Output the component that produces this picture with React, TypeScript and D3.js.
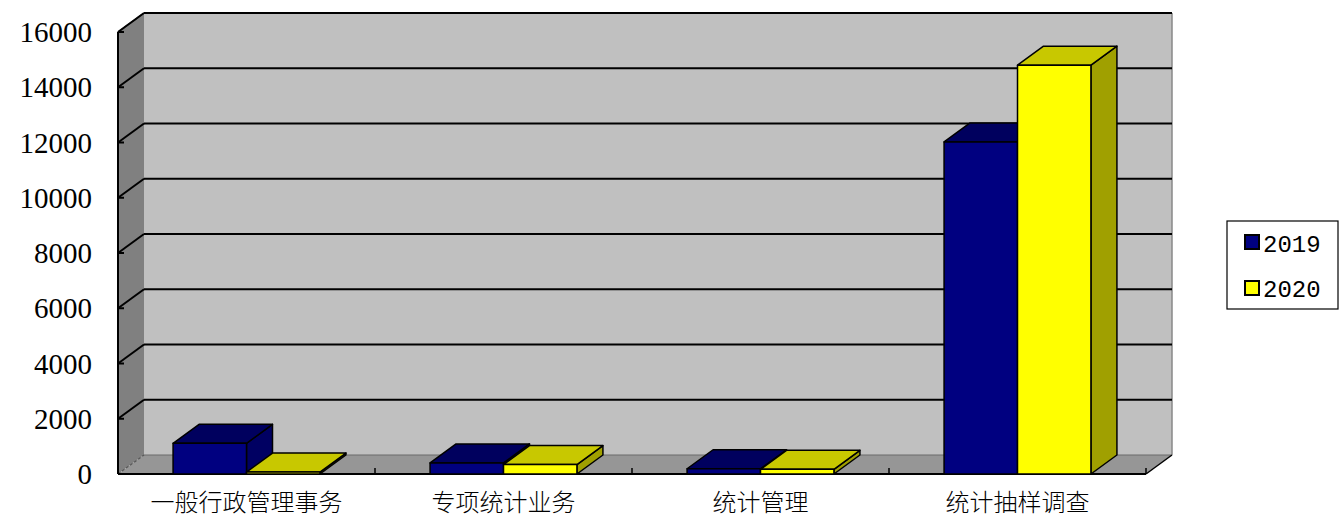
import React from "react";
import * as d3 from "d3";

const categories = ["一般行政管理事务", "专项统计业务", "统计管理", "统计抽样调查"];
const seriesNames = ["2019", "2020"];
const values2019 = [1110, 400, 190, 12020];
const values2020 = [70, 340, 170, 14800];
const yTicks = [0, 2000, 4000, 6000, 8000, 10000, 12000, 14000, 16000];

const W = 1340;
const H = 518;
const DX = 26;
const DY = -19;
const X0 = 118;
const X1 = 1146;
const Y0 = 474;
const Y1 = 32;

const frontColors = ["#000080", "#ffff00"];
const topColors = ["#00005e", "#c8c800"];
const sideColors = ["#000062", "#a0a000"];

export default function App() {
  const y = d3.scaleLinear().domain([0, 16000]).range([Y0, Y1]);
  const x = d3.scaleBand<string>().domain(categories).range([X0, X1]).padding(0);
  const xs = d3
    .scaleBand<string>()
    .domain(seriesNames)
    .range([0, x.bandwidth()])
    .paddingInner(0)
    .paddingOuter(0.75);
  const seriesVals = [values2019, values2020];
  const bw = xs.bandwidth();

  const bars: React.ReactNode[] = [];
  categories.forEach((c, ci) => {
    seriesNames.forEach((s, si) => {
      const v = seriesVals[si][ci];
      const bx = (x(c) as number) + (xs(s) as number);
      const yv = y(v);
      const yb = y(0);
      const top = `M${bx},${yv}L${bx + DX},${yv + DY}L${bx + bw + DX},${yv + DY}L${bx + bw},${yv}Z`;
      const side = `M${bx + bw},${yv}L${bx + bw + DX},${yv + DY}L${bx + bw + DX},${yb + DY}L${bx + bw},${yb}Z`;
      bars.push(
        <g key={`${ci}-${si}`} stroke="#000" strokeWidth={1.5} strokeLinejoin="round">
          <path d={side} fill={sideColors[si]} />
          <path d={top} fill={topColors[si]} />
          <rect x={bx} y={yv} width={bw} height={yb - yv} fill={frontColors[si]} />
        </g>
      );
    });
  });

  const backL = X0 + DX;
  const backR = X1 + DX;

  return (
    <div style={{ position: "absolute", left: 0, top: 0, width: W, height: H, background: "#fff" }}>
      <svg width={W} height={H} viewBox={`0 0 ${W} ${H}`} style={{ display: "block" }}>
        {/* back wall */}
        <rect x={backL} y={y(16000) + DY} width={backR - backL} height={y(0) - y(16000)} fill="#c0c0c0" />
        {/* left wall */}
        <path
          d={`M${X0},${y(16000)}L${backL},${y(16000) + DY}L${backL},${y(0) + DY}L${X0},${y(0)}Z`}
          fill="#808080"
        />
        {/* floor */}
        <path
          d={`M${X0},${Y0}L${backL},${Y0 + DY}L${backR},${Y0 + DY}L${X1},${Y0}Z`}
          fill="#969696"
        />
        <line x1={backL} y1={Y0 + DY} x2={backR} y2={Y0 + DY} stroke="#6a6a6a" strokeWidth={1.2} />
        <line x1={X0} y1={Y0} x2={backL} y2={Y0 + DY} stroke="#555" strokeWidth={1.2} strokeDasharray="3,2" />
        <line x1={backR} y1={y(16000) + DY} x2={backR} y2={Y0 + DY} stroke="#888" strokeWidth={1.5} />
        <line x1={X0} y1={y(16000)} x2={backL} y2={y(16000) + DY} stroke="#444" strokeWidth={1.5} />
        {/* gridlines */}
        {yTicks
          .filter((t) => t > 0)
          .map((t) => (
            <g key={t} stroke="#000" strokeWidth={2}>
              <line x1={backL} y1={y(t) + DY} x2={backR} y2={y(t) + DY} />
              <line x1={X0} y1={y(t)} x2={backL} y2={y(t) + DY} />
              <line x1={X0} y1={y(t)} x2={X0 + 6} y2={y(t)} />
            </g>
          ))}
        {/* axes */}
        <line x1={X0} y1={Y1} x2={X0} y2={Y0} stroke="#000" strokeWidth={2} />
        <line x1={X0} y1={Y0} x2={X1} y2={Y0} stroke="#000" strokeWidth={2} />
        <line x1={X1} y1={Y0} x2={backR} y2={Y0 + DY} stroke="#000" strokeWidth={1.5} />
        {categories.map((c) => (
          <line
            key={c}
            x1={(x(c) as number) + x.bandwidth()}
            y1={Y0}
            x2={(x(c) as number) + x.bandwidth()}
            y2={Y0 - 6}
            stroke="#000"
            strokeWidth={1.5}
          />
        ))}
        {/* bars */}
        {bars}
        {/* y labels */}
        {yTicks.map((t) => (
          <text
            key={t}
            x={92}
            y={y(t) + 10}
            textAnchor="end"
            fontFamily="'Liberation Serif', 'DejaVu Serif', serif"
            fontSize={29}
            fill="#000"
          >
            {t}
          </text>
        ))}
        {/* x labels */}
        {categories.map((c) => (
          <text
            key={c}
            x={(x(c) as number) + x.bandwidth() / 2}
            y={511}
            textAnchor="middle"
            fontFamily="'Noto Sans CJK SC', sans-serif"
            fontWeight={300}
            fontSize={24}
            fill="#000"
          >
            {c}
          </text>
        ))}
        {/* legend */}
        <rect x={1227} y={221} width={111} height={88} fill="#fff" stroke="#000" strokeWidth={1.2} />
        {seriesNames.map((s, i) => (
          <g key={s}>
            <rect
              x={1245}
              y={235 + i * 46}
              width={14}
              height={14}
              fill={frontColors[i]}
              stroke="#000"
              strokeWidth={2}
            />
            <text
              x={1263}
              y={252 + i * 45}
              fontFamily="'Liberation Mono', 'DejaVu Sans Mono', monospace"
              fontSize={24}
              fill="#000"
            >
              {s}
            </text>
          </g>
        ))}
      </svg>
    </div>
  );
}
